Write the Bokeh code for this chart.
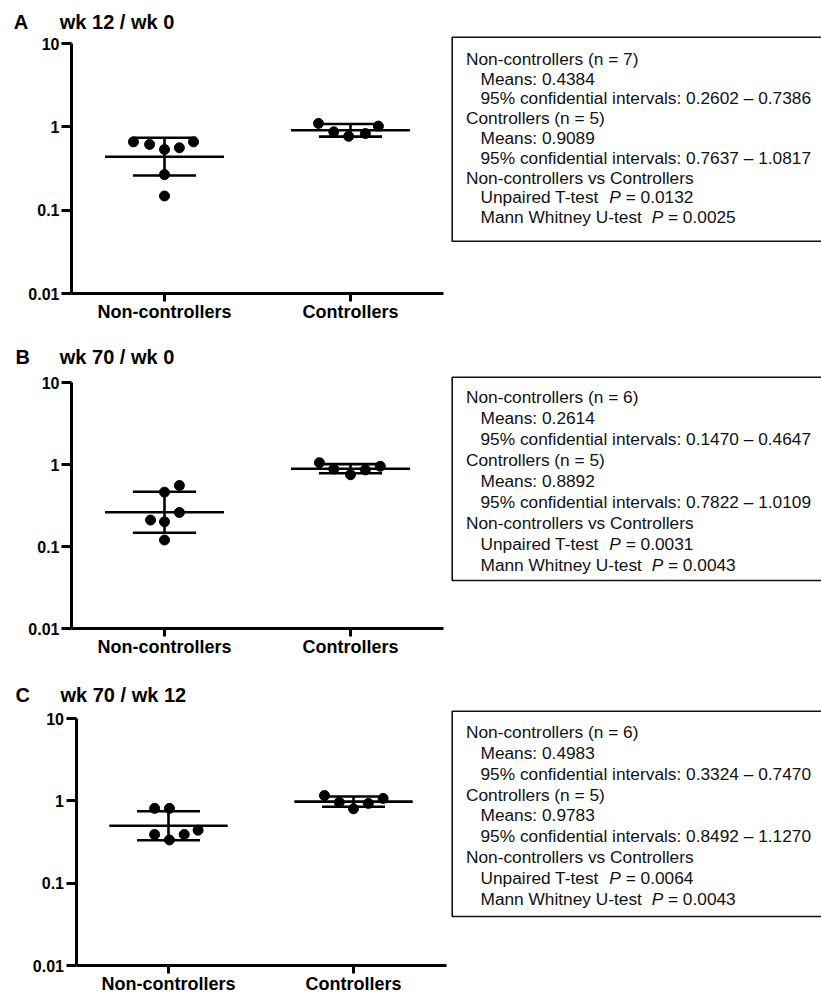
from bokeh.plotting import figure
from bokeh.models import Range1d, FixedTicker, LogAxis, LinearAxis
from bokeh.layouts import column
from bokeh.embed import file_html
from bokeh.resources import INLINE
from bokeh.core.properties import value

# ---------------- data ----------------
groups = ["Non-controllers", "Controllers"]
y_ticks = [0.01, 0.1, 1.0, 10.0]
y_tick_labels = ["0.01", "0.1", "1", "10"]

panel_letters = ["A", "B", "C"]
panel_titles = ["wk 12 / wk 0", "wk 70 / wk 0", "wk 70 / wk 12"]

# individual ratios and their horizontal scatter
nc_A = [0.66, 0.615, 0.535, 0.56, 0.66, 0.267, 0.148]
nc_A_jit = [-0.167, -0.08, 0.0, 0.08, 0.156, 0.0, 0.0]
c_A = [1.10, 0.87, 0.77, 0.83, 1.02]
c_A_jit = [-0.172, -0.09, -0.01, 0.08, 0.15]

nc_B = [0.555, 0.46, 0.26, 0.21, 0.20, 0.12]
nc_B_jit = [0.08, 0.0, 0.08, -0.075, 0.0, 0.0]
c_B = [1.05, 0.88, 0.75, 0.86, 0.95]
c_B_jit = [-0.167, -0.09, 0.0, 0.08, 0.16]

nc_C = [0.81, 0.81, 0.39, 0.335, 0.39, 0.44]
nc_C_jit = [-0.075, 0.005, -0.075, 0.005, 0.085, 0.16]
c_C = [1.16, 0.96, 0.80, 0.93, 1.07]
c_C_jit = [-0.157, -0.077, 0.0, 0.08, 0.16]

# summary statistics (Non-controllers, Controllers)
means_A = [0.4384, 0.9089]
ci_lo_A = [0.2602, 0.7637]
ci_hi_A = [0.7386, 1.0817]
n_A = [7, 5]
p_ttest_A = "0.0132"
p_mwu_A = "0.0025"

means_B = [0.2614, 0.8892]
ci_lo_B = [0.1470, 0.7822]
ci_hi_B = [0.4647, 1.0109]
n_B = [6, 5]
p_ttest_B = "0.0031"
p_mwu_B = "0.0043"

means_C = [0.4983, 0.9783]
ci_lo_C = [0.3324, 0.8492]
ci_hi_C = [0.7470, 1.1270]
n_C = [6, 5]
p_ttest_C = "0.0064"
p_mwu_C = "0.0043"

# ---------------- style / layout ----------------
FONT = "Liberation Sans"
BOX_FS = 17.3
ARIAL_W = {' ': 278, 'U': 722, 'n': 556, 'p': 556, 'a': 556, 'i': 222, 'r': 333,
           'e': 556, 'd': 556, 'T': 611, '-': 333, 't': 278, 's': 500, 'M': 833,
           'W': 944, 'h': 556, 'y': 500}


def text_w(s, fs):
    return sum(ARIAL_W.get(ch, 556) for ch in s) * fs / 1000.0


PAGE_W = 821
SHIFT_X = 0     # picture x -> page x
SHIFT_Y = 0     # picture y -> page y


def make_panel(letter, title, nc, nc_jit, c, c_jit, means, lo, hi, n, pt, pu, L):
    ten, hund = L["ten"], L["hund"]
    cx0, unit = L["cx0"], L["unit"]
    top, ph = L["top"], L["ph"]
    dec = (hund - ten) / 3.0

    def U(rx):          # picture x -> category units
        return (rx - cx0) / unit

    def V(ry):          # picture y -> log value
        return 10 ** (1 - (ry - ten) / dec)

    p = figure(width=PAGE_W, height=ph,
               x_range=Range1d(U(SHIFT_X), U(SHIFT_X + PAGE_W)),
               y_range=Range1d(V(top + ph), V(top)),
               y_axis_type="log", x_axis_location=None, y_axis_location=None,
               toolbar_location=None, output_backend="svg", min_border=0)
    p.title.visible = False
    p.outline_line_color = None
    p.xgrid.visible = False
    p.ygrid.visible = False
    p.background_fill_color = "white"
    p.border_fill_color = "white"

    yax = LogAxis(fixed_location=-0.5, bounds=(0.01, 10),
                  ticker=FixedTicker(ticks=y_ticks, minor_ticks=[]),
                  major_label_overrides={t: l for t, l in zip(y_ticks, y_tick_labels)})
    xax = LinearAxis(fixed_location=0.01, bounds=(-0.5, 1.5),
                     ticker=FixedTicker(ticks=[0, 1], minor_ticks=[]),
                     major_label_overrides={i: g for i, g in enumerate(groups)})
    for ax in (xax, yax):
        ax.axis_line_width = 3
        ax.axis_line_color = "black"
        ax.major_tick_line_width = 3
        ax.major_tick_line_color = "black"
        ax.major_tick_in = 0
        ax.minor_tick_line_color = None
        ax.major_label_text_font = FONT
        ax.major_label_text_font_style = "bold"
        ax.major_label_text_color = "black"
    xax.major_tick_out = 8
    xax.major_label_standoff = 0
    xax.major_label_text_font_size = "18px"
    yax.major_tick_out = 10
    yax.major_label_standoff = 2
    yax.major_label_text_font_size = "16px"
    p.add_layout(yax, "left")
    p.add_layout(xax, "below")

    # mean and 95% CI bars
    idx = [0, 1]
    mw, cw = 0.32, 0.17
    lw = 2.6
    p.segment(x0=[i - mw for i in idx], x1=[i + mw for i in idx], y0=means, y1=means,
              line_width=lw, line_color="black")
    p.segment(x0=[i - cw for i in idx], x1=[i + cw for i in idx], y0=lo, y1=lo,
              line_width=lw, line_color="black")
    p.segment(x0=[i - cw for i in idx], x1=[i + cw for i in idx], y0=hi, y1=hi,
              line_width=lw, line_color="black")
    p.segment(x0=idx, x1=idx, y0=lo, y1=hi, line_width=lw, line_color="black")

    # individual points
    xs = [0 + j for j in nc_jit] + [1 + j for j in c_jit]
    ys = list(nc) + list(c)
    p.scatter(x=xs, y=ys, size=10, fill_color="black", line_color="black")

    # panel title
    p.text(x=[U(L["lx"]), U(L["tx"])], y=[V(L["ty"])] * 2, text=[letter, title],
           text_font=value(FONT), text_font_style="bold", text_font_size="20px",
           text_baseline="middle", text_align="left", text_color="black")

    # statistics box
    p.quad(left=[U(L["bl"])], right=[U(SHIFT_X + PAGE_W + 30)],
           top=[V(L["bt"])], bottom=[V(L["bb"])],
           fill_color=None, line_color="#111111", line_width=1.6)

    x0, x1 = L["bl"] + 13.8, L["bl"] + 28.3
    lines = [
        (x0, f"Non-controllers (n = {n[0]})"),
        (x1, f"Means: {means[0]:.4f}"),
        (x1, f"95% confidential intervals: {lo[0]:.4f} \u2013 {hi[0]:.4f}"),
        (x0, f"Controllers (n = {n[1]})"),
        (x1, f"Means: {means[1]:.4f}"),
        (x1, f"95% confidential intervals: {lo[1]:.4f} \u2013 {hi[1]:.4f}"),
        (x0, "Non-controllers vs Controllers"),
        (x1, "Unpaired T-test"),
        (x1, "Mann Whitney U-test"),
    ]
    ry = [L["l1"] + k * L["sp"] for k in range(len(lines))]
    common = dict(text_font=value(FONT), text_font_size=f"{BOX_FS}px",
                  text_baseline="middle", text_align="left", text_color="#111111")
    p.text(x=[U(l[0]) for l in lines], y=[V(r) for r in ry],
           text=[l[1] for l in lines], **common)

    prx = [x1 + text_w("Unpaired T-test  ", BOX_FS),
           x1 + text_w("Mann Whitney U-test  ", BOX_FS)]
    pyv = [V(ry[7]), V(ry[8])]
    p.text(x=[U(v) for v in prx], y=pyv, text=["P", "P"],
           text_font_style="italic", **common)
    eq_off = (667 + 278) * BOX_FS / 1000.0
    p.text(x=[U(v + eq_off) for v in prx], y=pyv, text=[f"= {pt}", f"= {pu}"], **common)
    return p


LAY_A = dict(top=0, ph=335, ten=43, hund=293, cx0=164, unit=186,
             lx=13.3, tx=59.3, ty=21.7,
             bl=451.7, bt=36.7, bb=240.7, l1=58.3, sp=19.8)
LAY_B = dict(top=335, ph=333, ten=382, hund=628, cx0=164, unit=186,
             lx=15.0, tx=59.3, ty=356.7,
             bl=451.7, bt=376.7, bb=580.0, l1=396.0, sp=21.0)
LAY_C = dict(top=668, ph=325, ten=718, hund=965, cx0=168, unit=185,
             lx=15.0, tx=60.0, ty=694.2,
             bl=451.7, bt=710.7, bb=916.0, l1=731.7, sp=20.8)

pA = make_panel(panel_letters[0], panel_titles[0], nc_A, nc_A_jit, c_A, c_A_jit,
                means_A, ci_lo_A, ci_hi_A, n_A, p_ttest_A, p_mwu_A, LAY_A)
pB = make_panel(panel_letters[1], panel_titles[1], nc_B, nc_B_jit, c_B, c_B_jit,
                means_B, ci_lo_B, ci_hi_B, n_B, p_ttest_B, p_mwu_B, LAY_B)
pC = make_panel(panel_letters[2], panel_titles[2], nc_C, nc_C_jit, c_C, c_C_jit,
                means_C, ci_lo_C, ci_hi_C, n_C, p_ttest_C, p_mwu_C, LAY_C)

layout = column(pA, pB, pC)

open("out.html", "w").write(file_html(layout, INLINE))
